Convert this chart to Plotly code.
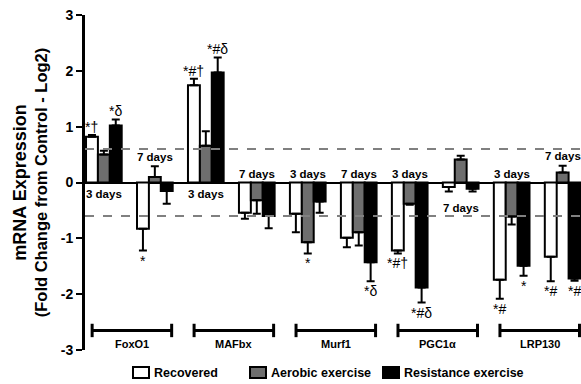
import plotly.graph_objects as go

# ---- data ----
genes = ["FoxO1", "MAFbx", "Murf1", "PGC1α", "LRP130"]
days = ["3 days", "7 days"]
series_names = ["Recovered", "Aerobic exercise", "Resistance exercise"]

# values per group (gene x day): 10 groups
recovered = [0.82, -0.83, 1.74, -0.54, -0.56, -0.99, -1.22, -0.08, -1.74, -1.33]
recovered_err = [0.03, 0.39, 0.12, 0.11, 0.33, 0.17, 0.05, 0.08, 0.34, 0.44]
aerobic = [0.50, 0.10, 0.66, -0.32, -1.07, -0.89, -0.38, 0.41, -0.61, 0.18]
aerobic_err = [0.07, 0.19, 0.26, 0.24, 0.20, 0.24, 0.02, 0.07, 0.14, 0.12]
resistance = [1.02, -0.15, 1.97, -0.60, -0.34, -1.43, -1.88, -0.11, -1.49, -1.72]
resistance_err = [0.11, 0.23, 0.27, 0.22, 0.20, 0.34, 0.27, 0.05, 0.18, 0.04]

# significance labels per group for each series
recovered_sig = ["*†", "*", "*#†", "", "", "", "*#†", "", "*#", "*#"]
aerobic_sig = ["", "", "", "", "*", "", "", "", "", ""]
resistance_sig = ["*δ", "", "*#δ", "", "", "*δ", "*#δ", "", "*", "*#"]

tick_vals = [3, 2, 1, 0, -1, -2, -3]
tick_text = ["3", "2", "1", "0", "-1", "-2", "-3"]
threshold = 0.6

# day label vertical placement (layout positions)
day_label_y = [-0.2, 0.45, -0.2, 0.16, 0.16, 0.16, 0.16, -0.45, 0.16, 0.48]

FONT = "Arial, Liberation Sans, sans-serif"
colors = ["white", "#6e6e6e", "black"]

W, H = 581, 384
ML, MR, MT, MB = 85, 0, 15, 34
PW, PH = W - ML - MR, H - MT - MB

x = list(range(len(recovered)))
fig = go.Figure()

all_vals = [recovered, aerobic, resistance]
all_err = [recovered_err, aerobic_err, resistance_err]
all_sig = [recovered_sig, aerobic_sig, resistance_sig]

for name, vals, errs, col in zip(series_names, all_vals, all_err, colors):
    plus = [e if v >= 0 else 0 for v, e in zip(vals, errs)]
    minus = [e if v < 0 else 0 for v, e in zip(vals, errs)]
    fig.add_trace(go.Bar(
        x=x, y=vals, name=name, showlegend=False,
        marker=dict(color=col, line=dict(color="black", width=2)),
        error_y=dict(type="data", symmetric=False, array=plus, arrayminus=minus,
                     color="black", thickness=2, width=4),
    ))

# significance annotations
bar_offsets = [-0.7 / 3, 0, 0.7 / 3]
for off, vals, errs, sigs in zip(bar_offsets, all_vals, all_err, all_sig):
    for i, (v, e, s) in enumerate(zip(vals, errs, sigs)):
        if not s:
            continue
        if v >= 0:
            fig.add_annotation(x=i + off, y=v + e, text=s, showarrow=False,
                               yanchor="bottom", yshift=-2,
                               font=dict(family=FONT, size=14, color="black"))
        else:
            fig.add_annotation(x=i + off, y=v - e, text=s, showarrow=False,
                               yanchor="top", yshift=0,
                               font=dict(family=FONT, size=14, color="black"))

# day labels
for i, yy in enumerate(day_label_y):
    fig.add_annotation(x=i, y=yy, text="<b>%s</b>" % days[i % 2], showarrow=False,
                       font=dict(family=FONT, size=11.5, color="black"))

# gene brackets
bracket_y = -2.65
for g, gene in enumerate(genes):
    xc = 2 * g + 0.55
    x0, x1 = xc - 0.78, xc + 0.78
    fig.add_shape(type="line", x0=x0, x1=x1, y0=bracket_y, y1=bracket_y,
                  line=dict(color="black", width=3))
    for xe in (x0, x1):
        fig.add_shape(type="line", x0=xe, x1=xe, y0=bracket_y - 0.12, y1=bracket_y + 0.12,
                      line=dict(color="black", width=3))
    fig.add_annotation(x=xc, y=bracket_y - 0.24, text="<b>%s</b>" % gene, showarrow=False,
                       font=dict(family=FONT, size=11, color="black"))

# threshold dashed lines
for yy in (threshold, -threshold):
    fig.add_shape(type="line", xref="paper", x0=0, x1=1, y0=yy, y1=yy,
                  line=dict(color="#808080", width=2, dash="dash"), layer="above")

# legend (drawn below the plot area)
legend_box_px = [133, 250, 383]
legend_y_px = (367, 378)


def px_x(p):
    return (p - ML) / PW


def px_y(p):
    return (H - MB - p) / PH


for name, col, bx in zip(series_names, colors, legend_box_px):
    fig.add_shape(type="rect", xref="paper", yref="paper",
                  x0=px_x(bx), x1=px_x(bx + 16), y0=px_y(legend_y_px[1]), y1=px_y(legend_y_px[0]),
                  fillcolor=col, line=dict(color="black", width=2))
    fig.add_annotation(xref="paper", yref="paper", x=px_x(bx + 19),
                       y=px_y(sum(legend_y_px) / 2), xanchor="left", yanchor="middle",
                       text="<b>%s</b>" % name, showarrow=False,
                       font=dict(family=FONT, size=12.5, color="black"))

title_text = ("<b><span style='font-size:18px'>mRNA Expression</span><br>"
              "(Fold Change from Control - Log2)</b>")

fig.update_layout(
    width=W, height=H,
    margin=dict(l=ML, r=MR, t=MT, b=MB, autoexpand=False),
    paper_bgcolor="white", plot_bgcolor="white",
    barmode="group", bargap=0.3, bargroupgap=0,
    font=dict(family=FONT, color="black"),
    showlegend=False,
    xaxis=dict(range=[-0.37, 9.36], showticklabels=False, showline=False,
               showgrid=False, zeroline=False, ticks="", automargin=False),
    yaxis=dict(range=[-3, 3], tickvals=tick_vals,
               ticktext=["<b>%s</b>" % t for t in tick_text],
               showgrid=False, showline=True, linecolor="black", linewidth=3,
               ticks="outside", ticklen=6, tickwidth=2, tickcolor="black",
               zeroline=True, zerolinecolor="black", zerolinewidth=2,
               automargin=False,
               tickfont=dict(family=FONT, size=14, color="black"),
               title=dict(text=title_text,
                          font=dict(family=FONT, size=16.5, color="black"), standoff=9)),
)

fig.write_html("out.html", config={"displayModeBar": False},
               post_script="document.body.style.margin='0';document.body.style.overflow='hidden';")
